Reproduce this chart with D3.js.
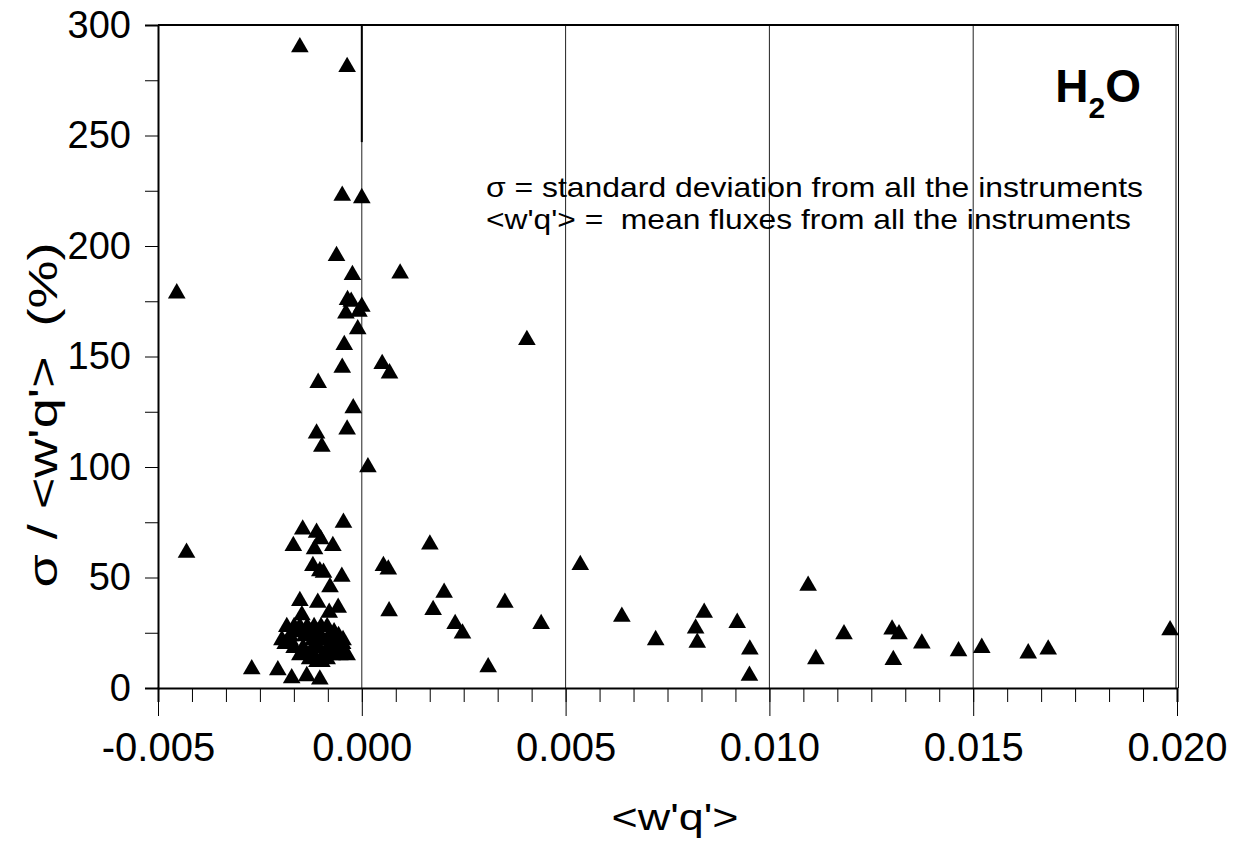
<!DOCTYPE html>
<html><head><meta charset="utf-8">
<script src="https://cdn.jsdelivr.net/npm/d3@7"></script>
<style>
html,body{margin:0;padding:0;background:#fff;}
text{font-family:"Liberation Sans",Arial,sans-serif;fill:#000;}
</style></head>
<body><svg id="c" width="1243" height="841"></svg>
<script>
// ---- data ----
const fluxX = [
 -0.00152,-0.00036,-0.00048,0.00000,-0.00062,-0.00023,0.00094,-0.00454,-0.00035,-0.00026,
 0.00000,-0.00039,-0.00007,0.00405,-0.00010,-0.00043,0.00050,0.00068,-0.00048,-0.00107,
 -0.00021,-0.00036,-0.00111,-0.00098,0.00015,
 -0.00045,-0.00145,-0.00111,-0.00101,-0.00168,-0.00071,-0.00116,-0.00430,0.00167,-0.00120,
 -0.00103,-0.00094,-0.00049,0.00053,0.00065,-0.00078,0.00202,-0.00152,-0.00108,-0.00058,
 -0.00080,-0.00147,0.00067,0.00175,
 -0.00184,-0.00166,-0.00152,-0.00134,-0.00117,-0.00100,-0.00085,
 -0.00161,-0.00127,-0.00108,-0.00068,
 -0.00176,-0.00140,-0.00103,-0.00080,-0.00057,
 -0.00196,-0.00176,-0.00120,-0.00095,-0.00061,-0.00046,
 -0.00188,-0.00112,-0.00070,-0.00047,
 -0.00166,-0.00144,-0.00108,-0.00083,-0.00054,
 -0.00125,-0.00088,-0.00064,-0.00044,
 -0.00152,-0.00120,-0.00095,-0.00073,-0.00054,-0.00036,
 -0.00128,-0.00085,
 -0.00110,-0.00098,
 -0.00270,-0.00206,-0.00172,-0.00135,-0.00103,
 0.00229,0.00247,0.00310,0.00351,0.00440,0.00536,0.00638,0.00721,0.00840,0.00819,
 0.00823,0.00921,0.00952,0.00951,0.01095,0.01114,0.01183,0.01301,0.01318,0.01304,
 0.01374,0.01464,0.01521,0.01635,0.01684,0.01983
];
const ratioY = [
 290,281,222.8,221.7,195.5,186.9,187.6,178.6,175.6,174.8,
 172.5,169.5,170.3,157.5,162.4,155.2,146.6,142.4,144.9,138.1,
 126.6,117,115.2,109.2,99.9,
 74.8,71.8,70.3,67.3,64.3,64.3,62.8,61.2,65,55.2,
 52.9,52.2,50.4,55.2,53.7,45.6,43.1,39.4,38.6,36.3,
 34.1,33,34.8,35.3,
 27.6,27.6,27.6,27.6,27.6,27.6,27.6,
 25.3,25.3,25.3,25.3,
 23.5,23.5,23.5,23.5,23.5,
 21.7,21.7,21.7,21.7,21.7,21.7,
 19.9,19.9,19.9,19.9,
 18.1,18.1,18.1,18.1,18.1,
 16.5,16.5,16.5,16.5,
 14.9,14.9,14.9,14.9,14.9,14.9,
 13,13,
 11.8,11.8,
 8.5,8.1,4.4,5.4,3.9,
 29,24.7,9.4,38.6,29,55.7,32.3,21.7,34.1,27,
 20.5,29.5,17.5,5.6,46.3,13.1,24.4,26.5,24.4,12.7,
 20.2,16.7,18.2,15.7,17.5,26.2
];
const xTicks = [-0.005,0.000,0.005,0.010,0.015,0.020];
const yTicks = [0,50,100,150,200,250,300];
const gridX = [0.000,0.005,0.010,0.015];
const xTitle = "<w'q'>";
const yTitle = "σ / <w'q'>  (%)";
const noteLines = ["σ = standard deviation from all the instruments","<w'q'> =  mean fluxes from all the instruments"];

// ---- layout ----
const L=158, R=1177, T=25, B=688;
const svg = d3.select("#c");
const x = d3.scaleLinear().domain([-0.005,0.020]).range([L,R]);
const y = d3.scaleLinear().domain([0,300]).range([B,T]);

// grid lines
svg.append("g").selectAll("line").data(gridX).join("line")
  .attr("x1",d=>x(d)).attr("x2",d=>x(d)).attr("y1",T).attr("y2",B)
  .attr("stroke","#222").attr("stroke-width",1);
svg.append("line").attr("x1",x(0)).attr("x2",x(0)).attr("y1",y(300)).attr("y2",y(247))
  .attr("stroke","#000").attr("stroke-width",2);

// frame: top and right
svg.append("line").attr("x1",L).attr("x2",R+2).attr("y1",T).attr("y2",T).attr("stroke","#000").attr("stroke-width",2);
svg.append("line").attr("x1",R-1).attr("x2",R-1).attr("y1",T).attr("y2",B).attr("stroke","#000").attr("stroke-width",1);
svg.append("line").attr("x1",R+1.5).attr("x2",R+1.5).attr("y1",T).attr("y2",B).attr("stroke","#000").attr("stroke-width",1);

// y axis
const yMinor = d3.range(0,301,25);
const yAx = svg.append("g").attr("transform",`translate(${L},0)`)
  .call(d3.axisLeft(y).tickValues(yMinor).tickSize(13).tickFormat(d=> yTicks.includes(d)? d3.format("d")(d):"").tickPadding(14));
yAx.select(".domain").attr("stroke","#000").attr("stroke-width",2);
yAx.selectAll(".tick line").attr("stroke","#000").attr("stroke-width",1);
yAx.selectAll(".tick text").attr("font-size",38).attr("font-family","Liberation Sans, Arial, sans-serif").attr("fill","#000");

// x axis
const minorStep = 0.005/6;
const xMinor = d3.range(0,31).map(i=>-0.005+i*minorStep);
const xAx = svg.append("g").attr("transform",`translate(0,${B})`)
  .call(d3.axisBottom(x).tickValues(xMinor).tickSize(14).tickFormat(()=>""));
xAx.select(".domain").attr("stroke","#000").attr("stroke-width",2);
xAx.selectAll(".tick line").attr("stroke","#000").attr("stroke-width",1);
const xAxMaj = svg.append("g").attr("transform",`translate(0,${B})`)
  .call(d3.axisBottom(x).tickValues(xTicks).tickSize(28).tickFormat(d=>d.toFixed(3)).tickPadding(17));
xAxMaj.select(".domain").remove();
xAxMaj.selectAll(".tick line").attr("stroke","#000").attr("stroke-width",1);
xAxMaj.selectAll(".tick text").attr("font-size",40).attr("font-family","Liberation Sans, Arial, sans-serif").attr("fill","#000");

// points
const tri = d3.symbol().type(d3.symbolTriangle).size(135);
svg.append("g").selectAll("path").data(fluxX.map((v,i)=>[v,ratioY[i]])).join("path")
  .attr("d",tri).attr("transform",d=>`translate(${x(d[0])},${y(d[1])})`).attr("fill","#000");

// titles
svg.append("text").attr("x",675).attr("y",830).attr("text-anchor","middle").attr("font-size",36)
  .attr("textLength",127).attr("lengthAdjust","spacingAndGlyphs").text(xTitle);
svg.append("text").attr("transform","translate(57,415) rotate(-90)").attr("text-anchor","middle")
  .attr("font-size",40).style("white-space","pre").attr("textLength",345).attr("lengthAdjust","spacingAndGlyphs").text(yTitle);

// annotation
const noteW = [657,645];
svg.append("g").selectAll("text").data(noteLines).join("text")
  .attr("x",486).attr("y",(d,i)=>197+i*32).attr("font-size",28).style("white-space","pre")
  .attr("textLength",(d,i)=>noteW[i]).attr("lengthAdjust","spacingAndGlyphs").text(d=>d);

// H2O
const h = svg.append("text").attr("x",1141).attr("y",102).attr("text-anchor","end").attr("font-size",46).attr("font-weight","bold");
h.append("tspan").text("H");
h.append("tspan").attr("font-size",30).attr("dy",16).text("2");
h.append("tspan").attr("dy",-16).text("O");
</script></body></html>
